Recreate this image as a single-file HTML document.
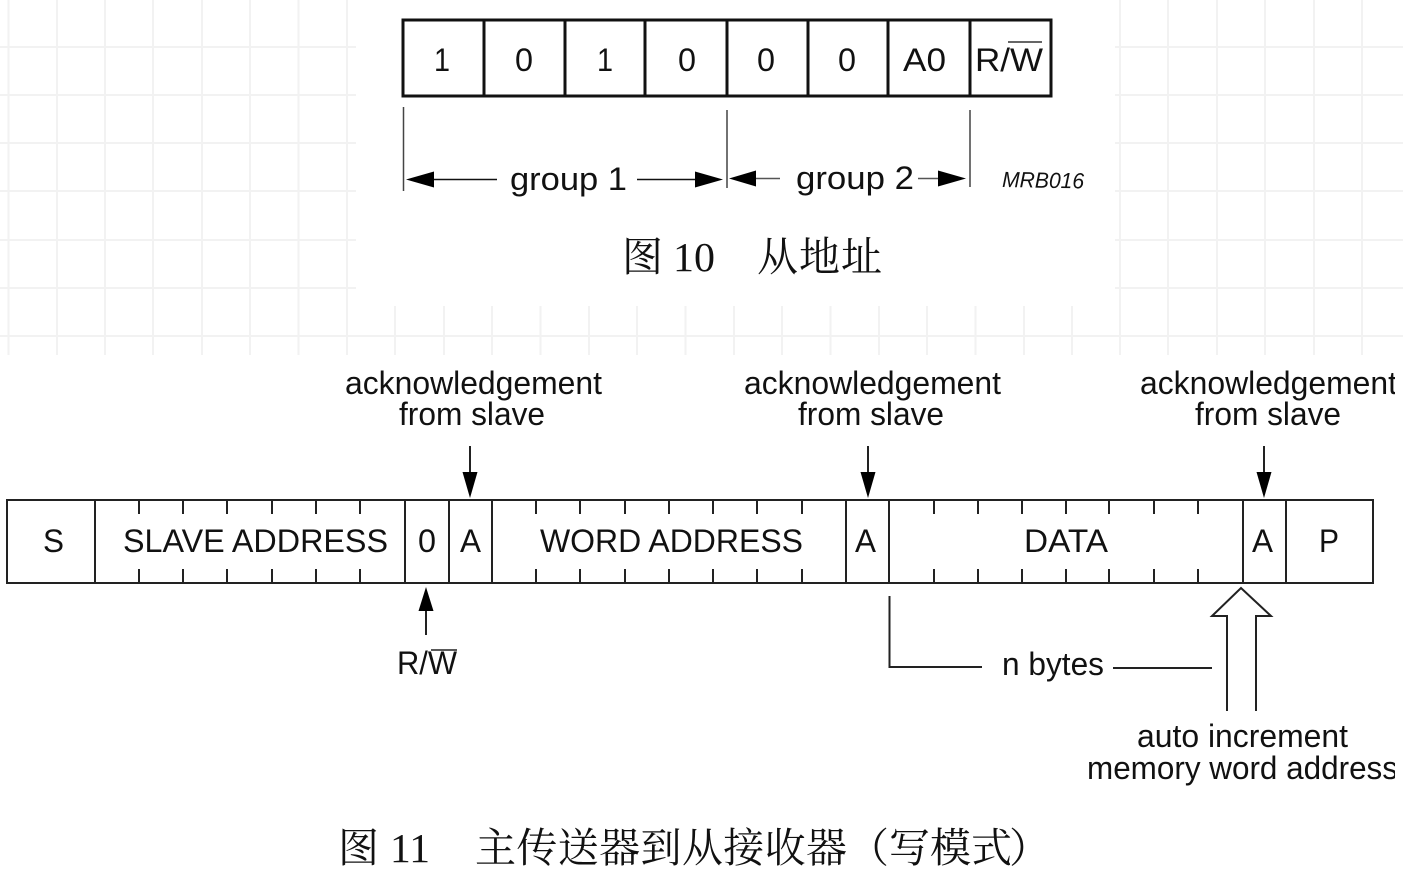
<!DOCTYPE html>
<html><head><meta charset="utf-8"><style>
html,body{margin:0;padding:0;background:#fff}
svg{display:block;filter:blur(.35px)}
text{font-family:"Liberation Sans",sans-serif;fill:#111}
.l{font-size:32.5px}
.c{font-family:"Liberation Serif","Noto Serif CJK SC",serif;font-size:41px;fill:#111}
</style></head><body>
<svg width="1403" height="881" viewBox="0 0 1403 881" xmlns="http://www.w3.org/2000/svg">
<rect width="1403" height="881" fill="#fff"/>
<g stroke="#f2f2f2" stroke-width="2" fill="none">
<path d="M8.500 0V355M57 0V355M105 0V355M153 0V355M202 0V355M250 0V355M298.500 0V355M347 0V355"/>
<path d="M395 306V355M444 306V355M492 306V355M540.500 306V355M589 306V355M637 306V355M685.500 306V355M734 306V355M782 306V355M830.500 306V355M879 306V355M927 306V355M975.500 306V355M1024 306V355M1072 306V355"/>
<path d="M1120 0V355M1168 0V355M1217 0V355M1265 0V355M1314 0V355M1362 0V355"/>
<path d="M0 47H356M0 95H356M0 143H356M0 191H356M0 240H356M0 288H356"/>
<path d="M1115 47H1403M1115 95H1403M1115 143H1403M1115 191H1403M1115 240H1403M1115 288H1403"/>
<path d="M0 336H1403"/>
</g>

<!-- top register -->
<g fill="none" stroke="#111">
<rect x="403" y="20" width="648" height="76" stroke-width="3"/>
<path stroke-width="3" d="M484 20V96M565 20V96M645 20V96M727 20V96M808 20V96M888 20V96M970 20V96"/>
<path stroke-width="1.500" stroke="#444" d="M403.500 107V191M727 110V188M970 110V187"/>
<path stroke-width="1.500" d="M430 179.500H497M637 179.500H700"/>
<path stroke-width="1.500" stroke="#555" d="M750 178.500H780M918 178.500H945"/>
<path stroke-width="1.500" stroke="#333" d="M1008 42H1042"/>
</g>
<g fill="#000">
<path d="M406 179.500L434 171.500V187.500Z"/><path d="M723 179.500L695 171.500V187.500Z"/>
<path d="M729 178.500L756 170.500V186.500Z"/><path d="M966 178.500L938 170.500V186.500Z"/>
</g>
<text class="l" x="434" y="71" textLength="16" lengthAdjust="spacingAndGlyphs">1</text>
<text class="l" x="515" y="71" textLength="18" lengthAdjust="spacingAndGlyphs">0</text>
<text class="l" x="597" y="71" textLength="16" lengthAdjust="spacingAndGlyphs">1</text>
<text class="l" x="678" y="71" textLength="18" lengthAdjust="spacingAndGlyphs">0</text>
<text class="l" x="757" y="71" textLength="18" lengthAdjust="spacingAndGlyphs">0</text>
<text class="l" x="838" y="71" textLength="18" lengthAdjust="spacingAndGlyphs">0</text>
<text class="l" x="903" y="71" textLength="43" lengthAdjust="spacingAndGlyphs">A0</text>
<text class="l" x="975" y="71" textLength="68" lengthAdjust="spacingAndGlyphs">R/W</text>
<text class="l" x="510" y="190" textLength="117" lengthAdjust="spacingAndGlyphs">group 1</text>
<text class="l" x="796" y="189" textLength="118" lengthAdjust="spacingAndGlyphs">group 2</text>
<text x="1002" y="187" font-size="22" font-style="italic" textLength="82" lengthAdjust="spacingAndGlyphs" transform="rotate(1 1002 187)">MRB016</text>
<text class="c" x="622" y="271">图</text>
<text class="c" x="673" y="271" textLength="42" lengthAdjust="spacingAndGlyphs">10</text>
<text class="c" x="757" y="271" textLength="125">从地址</text>

<!-- bottom frame -->
<g fill="none" stroke="#222" stroke-width="2">
<rect x="7" y="500" width="1366" height="83"/>
<path d="M95 500V583M405 500V583M449 500V583M492 500V583M846 500V583M889 500V583M1243 500V583M1286 500V583"/>
<path d="M139 500V514M183 500V514M227 500V514M272 500V514M316 500V514M360 500V514M139 569V583M183 569V583M227 569V583M272 569V583M316 569V583M360 569V583"/>
<path d="M536 500V514M580 500V514M625 500V514M669 500V514M713 500V514M757 500V514M802 500V514M536 569V583M580 569V583M625 569V583M669 569V583M713 569V583M757 569V583M802 569V583"/>
<path d="M934 500V514M978 500V514M1022 500V514M1066 500V514M1109 500V514M1154 500V514M1198 500V514M934 569V583M978 569V583M1022 569V583M1066 569V583M1109 569V583M1154 569V583M1198 569V583"/>
<path d="M470 446V475M868 446V475M1264 446V475M426 635V610"/>
<path d="M889.500 596V667H982M1113 668H1212"/>
<path d="M1227 711V616H1212L1241 588L1271 616H1256V711" stroke-linejoin="miter"/>
<path stroke-width="1.500" d="M431 650H457"/>
</g>
<g fill="#000">
<path d="M470 498L462.500 472H477.500Z"/><path d="M868 498L860.500 472H875.500Z"/><path d="M1264 498L1256.500 472H1271.500Z"/>
<path d="M426 587L418.500 611H433.500Z"/>
</g>
<text class="l" x="43" y="552" textLength="21" lengthAdjust="spacingAndGlyphs">S</text>
<text class="l" x="123" y="552" textLength="265" lengthAdjust="spacingAndGlyphs">SLAVE ADDRESS</text>
<text class="l" x="418" y="552" textLength="18" lengthAdjust="spacingAndGlyphs">0</text>
<text class="l" x="460" y="552" textLength="21" lengthAdjust="spacingAndGlyphs">A</text>
<text class="l" x="540" y="552" textLength="263" lengthAdjust="spacingAndGlyphs">WORD ADDRESS</text>
<text class="l" x="855" y="552" textLength="21" lengthAdjust="spacingAndGlyphs">A</text>
<text class="l" x="1024" y="552" textLength="84" lengthAdjust="spacingAndGlyphs">DATA</text>
<text class="l" x="1252" y="552" textLength="21" lengthAdjust="spacingAndGlyphs">A</text>
<text class="l" x="1319" y="552" textLength="20" lengthAdjust="spacingAndGlyphs">P</text>

<text class="l" x="345" y="394" textLength="257" lengthAdjust="spacingAndGlyphs">acknowledgement</text>
<text class="l" x="399" y="425" textLength="146" lengthAdjust="spacingAndGlyphs">from slave</text>
<text class="l" x="744" y="394" textLength="257" lengthAdjust="spacingAndGlyphs">acknowledgement</text>
<text class="l" x="798" y="425" textLength="146" lengthAdjust="spacingAndGlyphs">from slave</text>
<text class="l" x="1140" y="394" textLength="257" lengthAdjust="spacingAndGlyphs">acknowledgement</text>
<text class="l" x="1195" y="425" textLength="146" lengthAdjust="spacingAndGlyphs">from slave</text>
<text class="l" x="397" y="674" textLength="60" lengthAdjust="spacingAndGlyphs">R/W</text>
<text class="l" x="1002" y="675" textLength="102" lengthAdjust="spacingAndGlyphs">n bytes</text>
<text class="l" x="1137" y="747" textLength="211" lengthAdjust="spacingAndGlyphs">auto increment</text>
<text class="l" x="1087" y="779" textLength="311" lengthAdjust="spacingAndGlyphs">memory word address</text>
<rect x="1395" y="365" width="8" height="40" fill="#fff"/>
<rect x="1395" y="750" width="8" height="40" fill="#fff"/>
<text class="c" x="338" y="862">图</text>
<text class="c" x="390" y="862" textLength="40" lengthAdjust="spacingAndGlyphs">11</text>
<text class="c" x="475" y="862" textLength="372">主传送器到从接收器</text>
<text class="c" x="848" y="862">（写模式</text>
<text class="c" x="1009" y="862">）</text>
</svg>
</body></html>
